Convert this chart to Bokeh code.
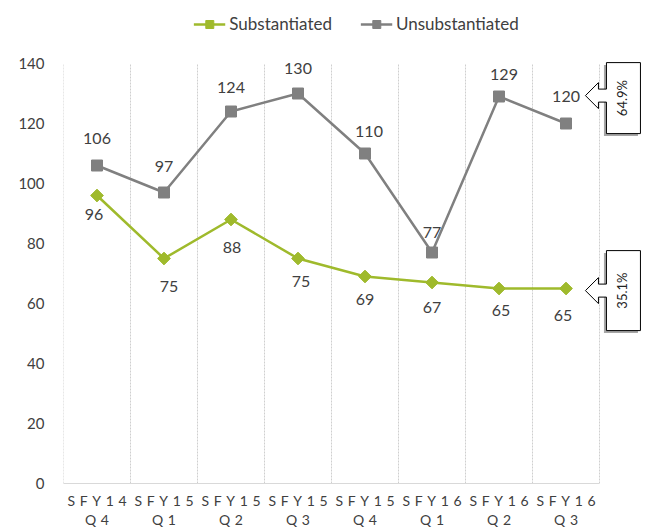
import math
from bokeh.plotting import figure
from bokeh.models import Range1d, FixedTicker, Legend, LegendItem
from bokeh.core.properties import value
from bokeh.embed import file_html
from bokeh.resources import INLINE

# ---- data ----
period_year = ["SFY14", "SFY15", "SFY15", "SFY15", "SFY15", "SFY16", "SFY16", "SFY16"]
period_quarter = ["Q4", "Q1", "Q2", "Q3", "Q4", "Q1", "Q2", "Q3"]
substantiated = [96, 75, 88, 75, 69, 67, 65, 65]
unsubstantiated = [106, 97, 124, 130, 110, 77, 129, 120]
y_ticks = [0, 20, 40, 60, 80, 100, 120, 140]

# ---- styles ----
FONT = "Lato"
GREEN = "#9fba2c"
GRAY = "#808080"
TEXT = "#404040"
SP = "\u2004"

# label offsets (screen px) for data labels
unsub_dx = [0, 0, 0, 0, 4, 0, 5, 0]
unsub_dy = [-27, -26, -24, -25, -22, -20, -22, -27]
sub_dx = [-3, 5, 1, 3, 0, 0, 2, -3]
sub_dy = [19, 28, 28, 23, 23, 25, 22, 27]

xs = list(range(len(substantiated)))

p = figure(width=649, height=531,
           x_range=Range1d(-0.5, 8.246), y_range=Range1d(0, 161),
           output_backend="svg", toolbar_location=None,
           min_border_left=63, min_border_right=0,
           min_border_top=0, min_border_bottom=48,
           outline_line_color=None)
p.xgrid.visible = False
p.ygrid.visible = False

# vertical category separators
bounds = [i - 0.5 for i in range(len(xs) + 1)]
p.segment(x0=bounds, y0=[0] * len(bounds), x1=bounds, y1=[y_ticks[-1]] * len(bounds),
          line_color="#cfcfcf", line_width=1, line_dash="2 1")

# axes
def spaced(s):
    return SP.join(s)

p.xaxis.ticker = FixedTicker(ticks=xs)
p.xaxis.major_label_overrides = {i: spaced(a) + "\n" + spaced(b)
                                 for i, (a, b) in enumerate(zip(period_year, period_quarter))}
p.xaxis.bounds = (-0.5, len(xs) - 0.5)
p.xaxis.axis_line_color = "#d9d9d9"
p.xaxis.major_tick_line_color = None
p.xaxis.minor_tick_line_color = None
p.xaxis.major_tick_out = 0
p.xaxis.minor_tick_out = 0
p.xaxis.major_label_standoff = 8
p.xaxis.major_label_text_font = FONT
p.xaxis.major_label_text_font_size = "14px"
p.xaxis.major_label_text_line_height = 1.17
p.xaxis.major_label_text_color = TEXT

p.yaxis.ticker = FixedTicker(ticks=y_ticks)
p.yaxis.axis_line_color = None
p.yaxis.major_tick_line_color = None
p.yaxis.minor_tick_line_color = None
p.yaxis.major_tick_out = 0
p.yaxis.minor_tick_out = 0
p.yaxis.major_label_standoff = 19
p.yaxis.major_label_text_font = FONT
p.yaxis.major_label_text_font_size = "15px"
p.yaxis.major_label_text_color = TEXT

# series
sub_line = p.line(xs, substantiated, line_color=GREEN, line_width=2.5)
sub_mark = p.scatter(xs, substantiated, marker="square", angle=math.pi / 4, size=9,
                     fill_color=GREEN, line_color=GREEN)
uns_line = p.line(xs, unsubstantiated, line_color=GRAY, line_width=2.5)
uns_mark = p.scatter(xs, unsubstantiated, marker="square", size=11,
                     fill_color=GRAY, line_color=GRAY)

# data labels
for i in xs:
    p.text([xs[i]], [unsubstantiated[i]], text=[str(unsubstantiated[i])],
           x_offset=unsub_dx[i], y_offset=unsub_dy[i],
           text_align="center", text_baseline="middle",
           text_font=value(FONT), text_font_size="16px", text_color=TEXT)
    p.text([xs[i]], [substantiated[i]], text=[str(substantiated[i])],
           x_offset=sub_dx[i], y_offset=sub_dy[i],
           text_align="center", text_baseline="middle",
           text_font=value(FONT), text_font_size="16px", text_color=TEXT)

# callouts with share of last quarter
last_total = unsubstantiated[-1] + substantiated[-1]
pct_uns = "%.1f%%" % (100.0 * unsubstantiated[-1] / last_total)
pct_sub = "%.1f%%" % (100.0 * substantiated[-1] / last_total)

PXX = 1.0 / 67.0
PXY = 1.0 / 3.0

def callout(tip_x, tip_y, up, down, txt):
    pts = [(0, 0), (13, -13), (13, -6.5), (21, -6.5), (21, -up), (55, -up),
           (55, down), (21, down), (21, 6.5), (13, 6.5), (13, 13)]
    px = [tip_x + dx * PXX for dx, dy in pts]
    py = [tip_y - dy * PXY for dx, dy in pts]
    p.quad(left=tip_x + 18.5 * PXX, right=tip_x + 52.5 * PXX,
           top=tip_y + (up - 2.5) * PXY, bottom=tip_y - (down + 2.5) * PXY,
           fill_color="#a6a6a6", line_color=None)
    p.patch(px, py, fill_color="white", line_color="black", line_width=1)
    p.text([tip_x + 37 * PXX], [tip_y - (down - up) / 2.0 * PXY], text=[txt],
           angle=math.pi / 2, text_align="center", text_baseline="middle",
           text_font=value(FONT), text_font_size="13px", text_color="#222222")

tip_x = len(xs) - 1 + 0.29
callout(tip_x, 129.3, 33, 38, pct_uns)
callout(tip_x, 64.3, 40, 40, pct_sub)

legend = Legend(items=[LegendItem(label="Substantiated", renderers=[sub_line, sub_mark]),
                       LegendItem(label="Unsubstantiated", renderers=[uns_line, uns_mark])],
                orientation="horizontal", location="top_center",
                glyph_width=32, glyph_height=20, label_standoff=4, spacing=28,
                padding=0, margin=13, border_line_color=None, background_fill_alpha=0,
                label_text_font=FONT, label_text_font_size="17px", label_text_color=TEXT)
p.add_layout(legend)

open("out.html", "w").write(file_html(p, INLINE))
